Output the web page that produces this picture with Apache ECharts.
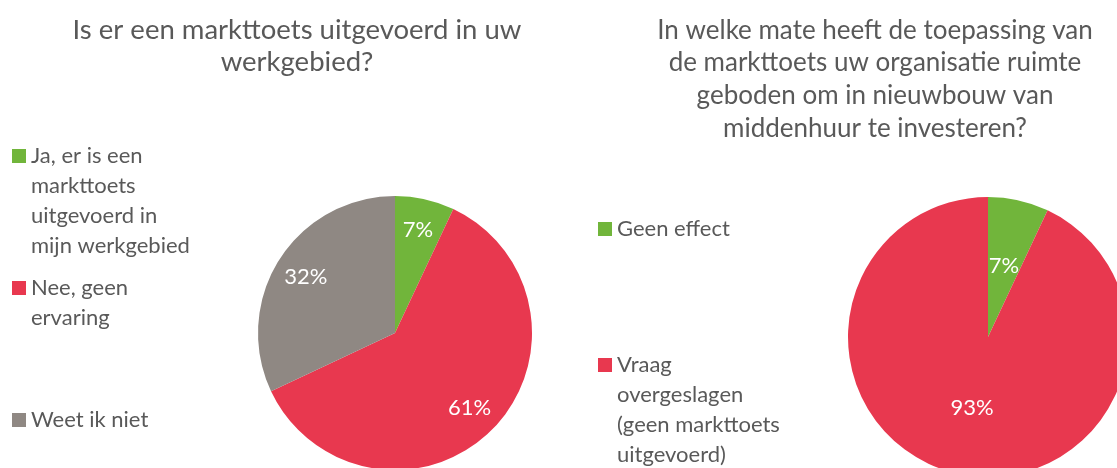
<!DOCTYPE html>
<html>
<head>
<meta charset="utf-8">
<script src="https://cdn.jsdelivr.net/npm/echarts@6/dist/echarts.min.js"></script>
<style>
  html, body { margin: 0; padding: 0; background: #fff; }
  #main { width: 1117px; height: 468px; }
</style>
</head>
<body>
<div id="main"></div>
<script>
// data left pie
var leftNames = ['Ja, er is een markttoets uitgevoerd in mijn werkgebied', 'Nee, geen ervaring', 'Weet ik niet'];
var leftValues = [7, 61, 32];
// data right pie
var rightNames = ['Geen effect', 'Vraag overgeslagen (geen markttoets uitgevoerd)'];
var rightValues = [7, 93];

var colors = ['#71b53b', '#e8384f', '#8f8883'];
var rightColors = ['#71b53b', '#e8384f'];

// legend text as wrapped in the picture
var wrapped = {
  'Ja, er is een markttoets uitgevoerd in mijn werkgebied': 'Ja, er is een\nmarkttoets\nuitgevoerd in\nmijn werkgebied',
  'Nee, geen ervaring': 'Nee, geen\nervaring',
  'Weet ik niet': 'Weet ik niet',
  'Geen effect': 'Geen effect',
  'Vraag overgeslagen (geen markttoets uitgevoerd)': 'Vraag\novergeslagen\n(geen markttoets\nuitgevoerd)'
};

var FONT = 'Lato';
var LH = 30;

// legend text is centred on the icon, so put empty lines above it
// to keep the first line level with the square
function legendFor(name, left, iconY) {
  var txt = wrapped[name];
  var n = txt.split('\n').length;
  var pad = '';
  for (var i = 1; i < n; i++) pad += '\u00a0\n';
  return {
    data: [name],
    orient: 'vertical',
    left: left,
    top: iconY - (2 * n - 1) * LH / 2,
    padding: 0,
    icon: 'rect',
    itemWidth: 14,
    itemHeight: 14,
    formatter: function (nm) { return pad + wrapped[nm]; },
    textStyle: { fontFamily: FONT, fontSize: 22, color: '#595959', lineHeight: LH }
  };
}

function pieData(names, values, cols) {
  return names.map(function (n, i) {
    return { name: n, value: values[i], itemStyle: { color: cols[i] } };
  });
}

var chart = echarts.init(document.getElementById('main'));
chart.setOption({
  animation: false,
  title: [
    {
      text: 'Is er een markttoets uitgevoerd in uw\nwerkgebied?',
      left: 297, top: 14, textAlign: 'center', padding: 0,
      textStyle: { fontFamily: FONT, fontSize: 27.5, fontWeight: 'normal', color: '#595959', lineHeight: 32 }
    },
    {
      text: 'In welke mate heeft de toepassing van\nde markttoets uw organisatie ruimte\ngeboden om in nieuwbouw van\nmiddenhuur te investeren?',
      left: 875, top: 14, textAlign: 'center', padding: 0,
      textStyle: { fontFamily: FONT, fontSize: 26, fontWeight: 'normal', color: '#595959', lineHeight: 32.7 }
    }
  ],
  legend: [
    legendFor(leftNames[0], 12, 156),
    legendFor(leftNames[1], 12, 288),
    legendFor(leftNames[2], 12, 420),
    legendFor(rightNames[0], 598, 229),
    legendFor(rightNames[1], 598, 365)
  ],
  series: [
    {
      type: 'pie',
      center: [395, 333],
      radius: [0, 137],
      startAngle: 90,
      silent: true,
      label: { show: false },
      labelLine: { show: false },
      data: pieData(leftNames, leftValues, colors)
    },
    {
      // label ring so the labels sit further out like in the picture
      type: 'pie',
      center: [395, 333],
      radius: [68, 137],
      startAngle: 90,
      silent: true,
      label: {
        show: true, position: 'inside', formatter: '{c}%',
        fontFamily: FONT, fontSize: 22, color: '#fff'
      },
      labelLine: { show: false },
      data: leftNames.map(function (n, i) { return { name: n, value: leftValues[i], itemStyle: { color: 'transparent' } }; })
    },
    {
      type: 'pie',
      center: [988, 337],
      radius: [0, 140],
      startAngle: 90,
      silent: true,
      label: {
        show: true, position: 'inside', formatter: '{c}%',
        fontFamily: FONT, fontSize: 22, color: '#fff'
      },
      labelLine: { show: false },
      data: pieData(rightNames, rightValues, rightColors)
    }
  ]
});
</script>
</body>
</html>
